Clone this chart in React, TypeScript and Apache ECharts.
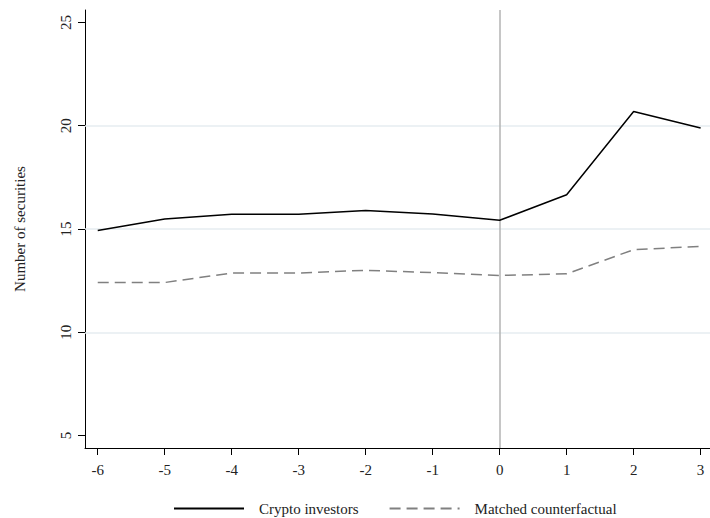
import React, { useEffect, useRef } from "react";
import * as echarts from "echarts";

const periods = [-6, -5, -4, -3, -2, -1, 0, 1, 2, 3];
const cryptoInvestors = [14.93, 15.48, 15.71, 15.71, 15.9, 15.73, 15.42, 16.66, 20.69, 19.89];
const matchedCounterfactual = [12.41, 12.41, 12.87, 12.87, 13.0, 12.89, 12.75, 12.83, 14.0, 14.16];
const yTicks = [5, 10, 15, 20, 25];
const yGridLines = [10, 15, 20];
const xTicks = [-6, -5, -4, -3, -2, -1, 0, 1, 2, 3];
const eventPeriod = 0;

const FONT = "'Liberation Serif', 'DejaVu Serif', serif";

export default function App() {
  const ref = useRef<HTMLDivElement>(null);

  useEffect(() => {
    if (!ref.current) return;
    const chart = echarts.init(ref.current, null, { renderer: "svg" });
    const option = {
      animation: false,
      backgroundColor: "#ffffff",
      textStyle: { fontFamily: FONT },
      grid: { left: 85, right: 0, top: 10, bottom: 70, containLabel: false },
      legend: {
        show: true,
        left: 173,
        top: 501,
        padding: 0,
        itemWidth: 70,
        itemHeight: 14,
        itemGap: 30,
        itemStyle: { opacity: 0 },
        textStyle: { fontFamily: FONT, fontSize: 15, color: "#222", padding: [0, 0, 0, 10] },
        data: ["Crypto investors", "Matched counterfactual"],
      },
      xAxis: {
        type: "value",
        min: -6.19,
        max: 3.14,
        axisLine: { show: true, onZero: false, lineStyle: { color: "#000", width: 1 } },
        axisTick: { show: true, length: 7, lineStyle: { color: "#000" }, customValues: xTicks },
        axisLabel: { fontFamily: FONT, fontSize: 15, color: "#222", margin: 14, customValues: xTicks },
        splitLine: { show: false },
      },
      yAxis: {
        type: "value",
        min: 4.4,
        max: 25.6,
        name: "Number of securities",
        nameLocation: "middle",
        nameGap: 58,
        nameRotate: 90,
        nameTextStyle: { fontFamily: FONT, fontSize: 15, color: "#222" },
        axisLine: { show: true, onZero: false, lineStyle: { color: "#000", width: 1 } },
        axisTick: { show: true, length: 7, lineStyle: { color: "#000" }, customValues: yTicks },
        axisLabel: { fontFamily: FONT, fontSize: 15, color: "#222", margin: 12, rotate: 90, customValues: yTicks },
        splitLine: { show: false },
      },
      series: [
        {
          name: "Crypto investors",
          type: "line",
          symbol: "none",
          data: periods.map((p, i) => [p, cryptoInvestors[i]]),
          lineStyle: { color: "#000000", width: 1.5 },
          itemStyle: { color: "#000000" },
          z: 5,
          markLine: {
            silent: true,
            symbol: "none",
            label: { show: false },
            data: [
              ...yGridLines.map((v) => ({ yAxis: v, lineStyle: { color: "#e6edf0", width: 1.5, type: "solid" } })),
              { xAxis: eventPeriod, lineStyle: { color: "#b3b3b3", width: 1.5, type: "solid" } },
            ],
          },
        },
        {
          name: "Matched counterfactual",
          type: "line",
          symbol: "none",
          data: periods.map((p, i) => [p, matchedCounterfactual[i]]),
          lineStyle: { color: "#808080", width: 1.5, type: [11, 6] },
          itemStyle: { color: "#808080" },
          z: 4,
        },
      ],
    };
    chart.setOption(option as any);
    return () => chart.dispose();
  }, []);

  return (
    <div
      ref={ref}
      style={{ position: "fixed", left: 0, top: 0, width: 710, height: 518, background: "#fff" }}
    />
  );
}
